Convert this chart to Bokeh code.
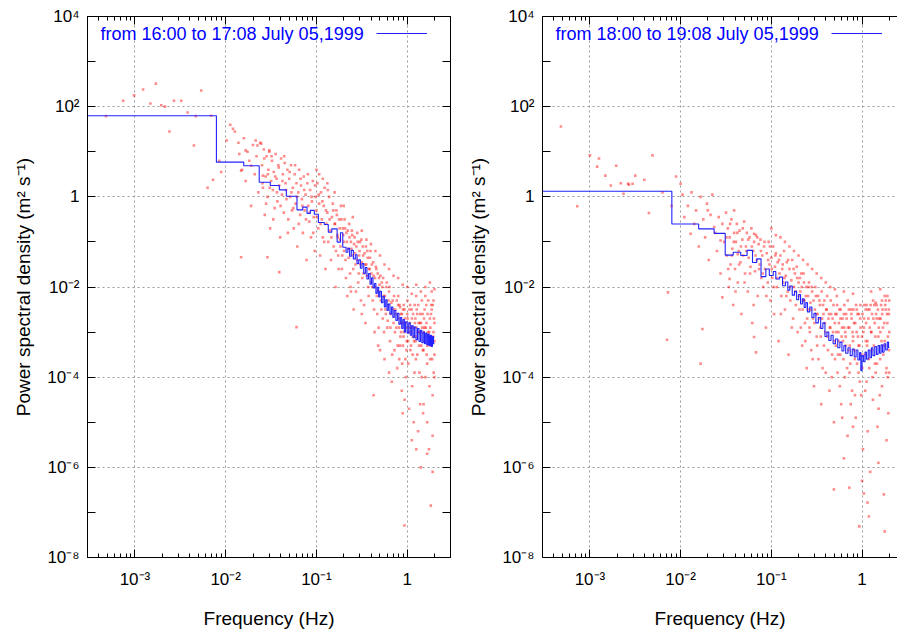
import numpy as np
from bokeh.plotting import figure
from bokeh.models import (ColumnDataSource, FixedTicker, LogAxis, Label, Legend,
                          LegendItem, CustomJSTickFormatter, Range1d)
from bokeh.layouts import row
from bokeh.embed import file_html
from bokeh.resources import INLINE
from bokeh.core.properties import value

FONT = "Liberation Sans"

# ---------------- axis ticks / labels ----------------
x_major_ticks = [1e-3, 1e-2, 1e-1, 1.0]
x_major_labels = ["10⁻³", "10⁻²", "10⁻¹", "1"]
x_minor_ticks = [4e-4, 5e-4, 6e-4, 7e-4, 8e-4, 9e-4,
                 2e-3, 3e-3, 4e-3, 5e-3, 6e-3, 7e-3, 8e-3, 9e-3,
                 2e-2, 3e-2, 4e-2, 5e-2, 6e-2, 7e-2, 8e-2, 9e-2,
                 0.2, 0.3, 0.4, 0.5, 0.6, 0.7, 0.8, 0.9, 2.0]
y_major_ticks = [1e-8, 1e-6, 1e-4, 1e-2, 1.0, 1e2, 1e4]
y_major_labels = ["10⁻⁸", "10⁻⁶", "10⁻⁴", "10⁻²", "1", "10²", "10⁴"]
y_minor_ticks = [1e-7, 1e-5, 1e-3, 1e-1, 1e1, 1e3]

x_label = "Frequency (Hz)"
y_label = "Power spectral density (m² s⁻¹)"
legend_texts = ["from 16:00 to 17:08 July 05,1999", "from 18:00 to 19:08 July 05,1999"]

# ---------------- blue step spectra (bin start frequency, PSD) ----------------
left_step_freq = [3.0e-4, 7.9e-3, 1.58e-2, 2.34e-2, 3.1e-2, 3.9e-2, 4.66e-2, 6.1e-2, 7.06e-2, 7.87e-2,
                  8.57e-2, 9.48e-2, 0.105, 0.122, 0.135, 0.1475, 0.169, 0.184, 0.195, 0.212,
                  0.222, 0.232, 0.242, 0.255, 0.268, 0.28, 0.292, 0.305, 0.318, 0.332,
                  0.346, 0.36, 0.375, 0.39, 0.405, 0.42, 0.436, 0.452, 0.468, 0.485,
                  0.50, 0.52, 0.54, 0.56, 0.58, 0.60, 0.62, 0.645, 0.67, 0.695,
                  0.72, 0.75, 0.78, 0.81, 0.84, 0.87, 0.90, 0.93, 0.96, 1.00,
                  1.04, 1.08, 1.12, 1.16, 1.20, 1.25, 1.30, 1.35, 1.40, 1.45,
                  1.50, 1.55, 1.60, 1.65, 1.70, 1.75, 1.80, 1.85, 1.90, 1.95, 2.00]
left_step_psd = [63, 5.9, 4.9, 2.1, 1.78, 1.43, 1.03, 0.515, 0.59, 0.43,
                 0.50, 0.41, 0.27, 0.243, 0.164, 0.195, 0.099, 0.16, 0.076, 0.059,
                 0.072, 0.048, 0.065, 0.042, 0.052, 0.033, 0.040, 0.026, 0.033, 0.020,
                 0.027, 0.015, 0.020, 0.0115, 0.016, 0.0095, 0.012, 0.0072, 0.0098, 0.0060,
                 0.0080, 0.0045, 0.0062, 0.0036, 0.0052, 0.0030, 0.0042, 0.0025, 0.0036, 0.0021,
                 0.0030, 0.0018, 0.0026, 0.0015, 0.0021, 0.0012, 0.0019, 0.0010, 0.0017, 0.00095,
                 0.0016, 0.00085, 0.0014, 0.00075, 0.0013, 0.00068, 0.0012, 0.00062, 0.0011, 0.00058,
                 0.0010, 0.00055, 0.00095, 0.00052, 0.0009, 0.0005, 0.00085, 0.00048, 0.0008, 0.00055, 0.00055]

right_step_freq = [3.0e-4, 8.0e-3, 1.58e-2, 2.34e-2, 3.1e-2, 3.8e-2, 4.6e-2, 5.4e-2, 6.2e-2, 6.9e-2,
                   7.7e-2, 8.7e-2, 9.5e-2, 0.105, 0.112, 0.123, 0.133, 0.143, 0.152, 0.16,
                   0.17, 0.18, 0.19, 0.20, 0.21, 0.22, 0.23, 0.24, 0.25, 0.265,
                   0.28, 0.295, 0.31, 0.33, 0.35, 0.37, 0.39, 0.41, 0.43, 0.455,
                   0.48, 0.51, 0.54, 0.57, 0.60, 0.63, 0.66, 0.70, 0.74, 0.78,
                   0.82, 0.86, 0.90, 0.94, 0.97, 1.00, 1.04, 1.08, 1.12, 1.17,
                   1.22, 1.27, 1.32, 1.38, 1.44, 1.50, 1.56, 1.62, 1.68, 1.75,
                   1.82, 1.90, 1.96, 2.00]
right_step_psd = [1.33, 0.25, 0.195, 0.155, 0.051, 0.059, 0.050, 0.065, 0.035, 0.042,
                  0.017, 0.025, 0.018, 0.022, 0.015, 0.0166, 0.0107, 0.0129, 0.0085, 0.0105,
                  0.0066, 0.0080, 0.0052, 0.0068, 0.0042, 0.0055, 0.0035, 0.0045, 0.0028, 0.0036,
                  0.0021, 0.0026, 0.0016, 0.0021, 0.0012, 0.0016, 0.0008, 0.0010, 0.00065, 0.00085,
                  0.00055, 0.0007, 0.00045, 0.0006, 0.00038, 0.0005, 0.00034, 0.00045, 0.00030, 0.00042,
                  0.00028, 0.00040, 0.00024, 0.00035, 0.00014, 0.00030, 0.00022, 0.00036, 0.00025, 0.00040,
                  0.00027, 0.00045, 0.00030, 0.00048, 0.00032, 0.00050, 0.00034, 0.00052, 0.00036, 0.00055,
                  0.00040, 0.00060, 0.00045, 0.00045]

# ---------------- red raw periodogram points, read as (log10 f, log10 PSD) ----------------
left_cloud = [
    (-3.32, 1.79), (-3.13, 2.13), (-3.01, 2.25), (-2.91, 2.38), (-2.77, 2.51), (-2.83, 2.07),
    (-2.71, 2.03), (-2.67, 2.0), (-2.57, 2.13), (-2.49, 2.13), (-2.27, 2.36), (-2.42, 1.87),
    (-2.16, 1.8), (-2.62, 1.45), (-2.33, 1.79), (-2.35, 1.14), (-2.20, 0.20), (-2.14, 0.38),
    (-2.05, 0.55), (-1.95, 1.60), (-1.92, 1.51), (-1.83, -1.34), (-1.65, 1.14), (-1.61, 1.18),
    (-1.54, -1.34), (-1.41, -1.67), (-1.22, -2.89), (-1.99, 1.25), (-2.07, 0.8), (-1.83, 0.58),
    (-1.78, 1.03), (-1.72, 0.69), (-1.67, 1.25), (-1.59, 0.47), (-1.52, 1.03),
    (-1.90, 1.45), (-1.86, 1.2), (-1.85, 0.95), (-1.82, 0.6), (-1.80, 1.3), (-1.78, 0.35),
    (-1.76, 1.0), (-1.74, 0.8), (-1.72, -0.2), (-1.70, 1.15), (-1.68, 0.5), (-1.66, 0.9),
    (-1.64, 0.1), (-1.62, 1.2),
    (-1.60, 0.7), (-1.59, 0.2), (-1.58, 1.05), (-1.57, -0.4), (-1.56, 0.45), (-1.55, 0.9),
    (-1.54, 0.0), (-1.53, 0.6), (-1.52, 1.0), (-1.51, -0.7), (-1.50, 0.35), (-1.49, 0.8),
    (-1.48, 0.15), (-1.47, 0.55), (-1.46, -0.25), (-1.45, 0.95), (-1.44, 0.4), (-1.43, -0.1),
    (-1.42, 0.7), (-1.41, 0.25), (-1.40, -0.9), (-1.39, 0.85), (-1.38, 0.05), (-1.37, 0.5),
    (-1.36, -0.35), (-1.35, 0.75), (-1.34, 0.3), (-1.33, -0.05), (-1.32, 0.6), (-1.31, -0.5),
    (-1.30, 0.4), (-1.29, 0.0), (-1.28, 0.7), (-1.27, -0.3), (-1.26, 0.2), (-1.25, -0.7),
    (-1.24, 0.5), (-1.23, -0.15), (-1.22, 0.3), (-1.21, -1.1), (-1.20, 0.1), (-1.19, 0.6),
    (-1.18, -0.4), (-1.17, 0.25), (-1.16, -0.05), (-1.15, -0.8), (-1.14, 0.45), (-1.13, -0.3),
    (-1.12, 0.05), (-1.11, -1.4), (-1.10, 0.3), (-1.09, -0.2), (-1.08, -0.55), (-1.07, 0.15),
    (-1.06, -0.9), (-1.05, -0.1), (-1.04, 0.35), (-1.03, -0.45), (-1.02, -1.2), (-1.01, 0.0),
    (-1.00, -0.3), (-0.99, 0.3), (-0.98, -0.7), (-0.97, -0.15), (-0.96, -1.3), (-0.95, 0.1),
    (-0.94, -0.5), (-0.93, -0.9), (-0.92, -0.2), (-0.91, 0.2), (-0.90, -1.6), (-0.89, -0.6),
    (-0.88, -0.35), (-0.87, -1.0), (-0.86, 0.0), (-0.85, -0.75), (-0.84, -1.4), (-0.83, -0.45),
    (-0.82, -0.15), (-0.81, -1.1), (-0.80, -0.6), (-0.79, -2.0), (-0.78, -0.3), (-0.77, -0.85),
    (-0.76, -1.3), (-0.75, -0.5), (-0.74, -0.95), (-0.73, -0.2), (-0.72, -1.6), (-0.71, -0.7),
    (-0.70, -1.0), (-0.69, -0.5), (-0.68, -1.4), (-0.67, -0.8), (-0.66, -2.2), (-0.65, -1.15),
    (-0.64, -0.6), (-0.63, -1.7), (-0.62, -1.0), (-0.61, -0.75), (-0.60, -1.3), (-0.59, -2.5),
    (-0.58, -0.9), (-0.57, -1.5), (-0.56, -1.1), (-0.55, -0.8), (-0.54, -1.9), (-0.53, -1.3),
    (-0.52, -1.0), (-0.51, -2.3), (-0.50, -1.45), (-0.49, -1.1), (-0.48, -1.7), (-0.47, -1.25),
    (-0.46, -2.8), (-0.45, -1.5), (-0.44, -1.2), (-0.43, -2.0), (-0.42, -1.6), (-0.41, -1.35),
    (-0.40, -1.9), (-0.39, -1.5), (-0.38, -2.3), (-0.37, -1.75), (-0.36, -3.0), (-0.35, -2.0),
    (-0.34, -1.6), (-0.33, -2.6), (-0.32, -2.1), (-0.31, -1.8), (-0.30, -3.4), (-0.29, -2.3),
    (-0.28, -1.9), (-0.27, -2.7), (-0.26, -2.2), (-0.25, -3.6), (-0.24, -2.5), (-0.23, -2.0),
    (-0.22, -2.9), (-0.21, -2.4), (-0.20, -2.1), (-0.19, -3.2), (-0.18, -2.6), (-0.17, -4.1),
    (-0.16, -2.3), (-0.15, -2.8), (-0.14, -3.4), (-0.13, -2.5), (-0.12, -2.9), (-0.11, -3.8),
    (-0.10, -2.4), (-0.09, -2.9), (-0.08, -3.3), (-0.07, -2.6), (-0.06, -4.3), (-0.05, -2.8),
    (-0.04, -3.1), (-0.03, -2.5), (-0.02, -3.6), (-0.01, -2.9), (0.00, -2.6), (0.01, -3.2),
    (0.02, -4.7), (0.03, -2.8), (0.04, -3.0), (0.05, -2.5), (0.06, -3.5), (0.07, -2.9),
    (0.08, -3.9), (0.09, -2.7), (0.10, -3.1), (0.11, -2.6), (0.12, -5.2), (0.13, -3.3),
    (0.14, -2.8), (0.15, -3.0), (0.16, -4.0), (0.17, -2.6), (0.18, -3.4), (0.19, -2.9),
    (0.20, -3.1), (0.21, -2.4), (0.22, -3.7), (0.23, -3.0), (0.24, -5.6), (0.25, -2.7),
    (0.26, -3.3), (0.27, -2.5), (0.28, -4.4), (0.29, -3.0), (0.30, -2.8), (0.30, -3.5),
    (0.15, -6.0), (0.26, -6.85), (0.22, -5.0), (0.05, -5.4), (-0.05, -4.8), (0.28, -5.3),
    (0.18, -4.6), (0.29, -2.3), (0.27, -2.1), (0.20, -2.2), (0.10, -2.2), (-0.20, -3.9),
    (-0.32, -3.3), (-0.50, -2.6), (-0.62, -2.1), (0.30, -4.0), (0.30, -3.2), (-0.03, -7.29),
    (0.22, -5.7), (0.28, -6.1), (0.10, -5.6), (-0.37, -4.4),
    (-1.595, 0.3), (-1.575, 0.85), (-1.555, -0.15), (-1.535, 0.5), (-1.515, 0.2), (-1.495, 0.9),
    (-1.475, -0.5), (-1.455, 0.45), (-1.435, 0.1), (-1.415, 0.65), (-1.395, -0.2), (-1.375, 0.35),
    (-1.355, 0.9), (-1.335, 0.15), (-1.315, -0.8), (-1.295, 0.55), (-1.275, 0.1), (-1.255, -0.25),
    (-1.235, 0.7), (-1.215, 0.0), (-1.195, -0.6), (-1.175, 0.4), (-1.155, -0.2), (-1.135, 0.15),
    (-1.115, -0.5), (-1.095, 0.5), (-1.075, -0.35), (-1.055, 0.0), (-1.035, -0.8), (-1.015, 0.25),
    (-0.995, -0.45), (-0.975, 0.05), (-0.955, -0.6), (-0.935, -0.1), (-0.915, -1.0), (-0.895, -0.3),
    (-0.875, 0.15), (-0.855, -0.5), (-0.835, -0.9), (-0.815, -0.3),
    (-1.00, 0.6), (-0.97, 0.5), (-0.93, 0.4), (-0.88, 0.3), (-0.80, 0.1), (-0.70, -0.2),
    (-0.60, -0.45), (-0.50, -0.75), (-0.45, -0.95), (-0.40, -1.05), (-0.35, -1.2), (-0.30, -1.3),
    (-0.25, -1.5), (-0.20, -1.6), (-0.15, -1.75), (-0.10, -1.8), (-0.05, -1.95), (0.00, -2.0),
    (0.05, -2.15), (0.10, -1.95), (0.15, -2.1), (0.20, -2.0), (0.25, -1.9), (0.30, -2.05),
    (-0.795, -0.6), (-0.785, -1.2), (-0.775, -0.4), (-0.765, -0.9), (-0.755, -1.6), (-0.745, -0.7),
    (-0.735, -1.1), (-0.725, -0.5), (-0.715, -1.3), (-0.705, -0.85), (-0.695, -1.2), (-0.685, -0.7),
    (-0.675, -1.8), (-0.665, -1.0), (-0.655, -0.75), (-0.645, -1.35), (-0.635, -0.9), (-0.625, -2.0),
    (-0.615, -1.15), (-0.605, -0.85), (-0.595, -1.6), (-0.585, -1.05), (-0.575, -1.25), (-0.565, -2.1),
    (-0.555, -1.4), (-0.545, -1.0), (-0.535, -1.7), (-0.525, -1.2), (-0.515, -1.5), (-0.505, -0.95),
    (-0.495, -1.8), (-0.485, -1.3), (-0.475, -2.4), (-0.465, -1.5), (-0.455, -1.1), (-0.445, -1.75),
    (-0.435, -1.35), (-0.425, -2.2), (-0.415, -1.6), (-0.405, -1.2), (-0.395, -1.7), (-0.385, -2.0),
    (-0.375, -1.45), (-0.365, -2.5), (-0.355, -1.8), (-0.345, -1.55), (-0.335, -2.2), (-0.325, -1.7),
    (-0.315, -2.9), (-0.305, -1.95), (-0.295, -1.75), (-0.285, -2.5), (-0.275, -2.0), (-0.265, -1.8),
    (-0.255, -3.0), (-0.245, -2.2), (-0.235, -2.6), (-0.225, -1.9), (-0.215, -2.75), (-0.205, -2.3),
    (-0.195, -2.0), (-0.185, -2.9), (-0.175, -2.35), (-0.165, -3.5), (-0.155, -2.5), (-0.145, -2.2),
    (-0.135, -3.0), (-0.125, -2.6), (-0.115, -2.3), (-0.105, -3.3), (-0.095, -2.7), (-0.085, -2.4),
    (-0.075, -3.1), (-0.065, -2.8), (-0.055, -3.7), (-0.045, -2.5), (-0.035, -3.0), (-0.025, -2.7),
    (-0.015, -4.0), (-0.005, -3.2), (0.005, -2.7), (0.015, -3.0), (0.025, -2.5), (0.035, -3.4),
    (0.045, -2.9), (0.055, -4.2), (0.065, -2.6), (0.075, -3.2), (0.085, -2.8), (0.095, -3.6),
    (0.105, -2.5), (0.115, -3.0), (0.125, -2.8), (0.135, -3.9), (0.145, -2.6), (0.155, -3.3),
    (0.165, -2.9), (0.175, -4.8), (0.185, -2.7), (0.195, -3.2), (0.205, -2.9), (0.215, -3.5),
    (0.225, -2.6), (0.235, -3.1), (0.245, -4.2), (0.255, -2.9), (0.265, -2.4), (0.275, -3.6),
    (0.285, -3.1), (0.295, -2.7),
    (-0.098, -2.2), (-0.088, -3.6), (-0.078, -2.45), (-0.068, -3.0), (-0.058, -2.6), (-0.048, -3.3),
    (-0.038, -2.4), (-0.028, -4.5), (-0.018, -2.8), (-0.008, -3.4), (0.002, -2.3), (0.012, -3.7),
    (0.022, -2.9), (0.032, -2.4), (0.042, -3.3), (0.052, -2.7), (0.062, -3.1), (0.072, -5.0),
    (0.082, -2.4), (0.092, -3.2), (0.102, -2.9), (0.112, -3.5), (0.122, -2.4), (0.132, -3.0),
    (0.142, -4.6), (0.152, -2.8), (0.162, -2.3), (0.172, -3.4), (0.182, -3.0), (0.192, -2.5),
    (0.202, -4.0), (0.212, -2.8), (0.222, -3.3), (0.232, -2.3), (0.242, -3.0), (0.252, -3.6),
    (0.262, -2.6), (0.272, -3.2), (0.282, -2.4), (0.292, -3.9),
]

right_cloud = [
    (-3.32, 1.56), (-3.00, 0.92), (-2.92, 0.67), (-2.83, 0.47), (-2.71, 0.69), (-2.66, 0.30),
    (-2.57, 0.27), (-2.53, 0.29), (-2.50, 0.47), (-2.40, 0.38), (-3.14, -0.21), (-2.35, -0.36),
    (-2.63, 0.07), (-2.31, 0.92), (-2.77, 0.25), (-2.58, 0.29), (-2.14, -2.12), (-2.15, -3.17),
    (-2.00, 0.29), (-1.96, -0.45), (-1.89, -0.82), (-1.78, -3.70), (-1.76, -2.93), (-1.70, -0.30),
    (-1.63, -0.67), (-1.56, -0.97), (-1.46, -1.82), (-1.54, -2.23), (-1.37, -1.27), (-1.17, -3.45),
    (-1.19, -3.11), (-1.41, -0.30), (-1.19, -0.82), (-2.20, 0.10), (-2.05, 0.45), (-2.10, -0.20),
    (-1.98, 0.05), (-2.90, 0.85),
    (-1.92, -0.2), (-1.88, 0.1), (-1.85, -0.6), (-1.83, -0.3), (-1.80, -1.1), (-1.78, 0.0),
    (-1.75, -0.5), (-1.73, -0.9), (-1.71, -0.15), (-1.69, -1.4), (-1.67, -0.4), (-1.65, 0.05),
    (-1.62, -0.8), (-1.60, -1.2), (-1.58, -0.45), (-1.56, -1.7), (-1.54, -0.6), (-1.52, -1.0),
    (-1.50, -0.35),
    (-1.49, -1.3), (-1.48, -0.7), (-1.47, -2.0), (-1.46, -0.9), (-1.45, -1.5), (-1.44, -0.5),
    (-1.43, -1.15), (-1.42, -2.4), (-1.41, -0.8), (-1.40, -1.6), (-1.39, -1.0), (-1.38, -0.6),
    (-1.37, -1.9), (-1.36, -1.2), (-1.35, -0.75), (-1.34, -1.45), (-1.33, -2.6), (-1.32, -0.95),
    (-1.31, -1.3), (-1.30, -0.55), (-1.29, -1.7), (-1.28, -1.1), (-1.27, -0.8), (-1.26, -2.1),
    (-1.25, -1.35), (-1.24, -0.9), (-1.23, -1.55), (-1.22, -0.7), (-1.21, -2.8), (-1.20, -1.2),
    (-1.19, -1.0), (-1.18, -1.65), (-1.17, -0.85), (-1.16, -1.4), (-1.15, -2.2), (-1.14, -1.05),
    (-1.13, -1.5), (-1.12, -0.95), (-1.11, -1.8),
    (-1.10, -1.3), (-1.09, -2.0), (-1.08, -1.1), (-1.07, -1.6), (-1.06, -2.9), (-1.05, -1.25),
    (-1.04, -1.9), (-1.03, -1.0), (-1.02, -1.5), (-1.01, -2.3), (-1.00, -1.35), (-0.99, -1.8),
    (-0.98, -1.1), (-0.97, -2.6), (-0.96, -1.55), (-0.95, -1.25), (-0.94, -2.0), (-0.93, -1.45),
    (-0.92, -3.2), (-0.91, -1.7), (-0.90, -1.3), (-0.89, -2.2), (-0.88, -1.6), (-0.87, -1.9),
    (-0.86, -1.2), (-0.85, -2.5), (-0.84, -1.75), (-0.83, -1.45), (-0.82, -2.1), (-0.81, -3.5),
    (-0.80, -1.6), (-0.79, -2.3), (-0.78, -1.85), (-0.77, -1.4), (-0.76, -2.7), (-0.75, -2.0),
    (-0.74, -1.7), (-0.73, -2.4), (-0.72, -1.55), (-0.71, -3.0),
    (-0.70, -1.9), (-0.69, -2.5), (-0.68, -2.1), (-0.67, -1.7), (-0.66, -3.3), (-0.65, -2.3),
    (-0.64, -1.9), (-0.63, -2.8), (-0.62, -2.2), (-0.61, -3.8), (-0.60, -2.5), (-0.59, -2.0),
    (-0.58, -2.9), (-0.57, -2.35), (-0.56, -3.4), (-0.55, -2.1), (-0.54, -2.7), (-0.53, -4.2),
    (-0.52, -2.5), (-0.51, -2.2), (-0.50, -3.1), (-0.49, -2.6), (-0.48, -3.6), (-0.47, -2.3),
    (-0.46, -2.9), (-0.45, -4.6), (-0.44, -2.7), (-0.43, -2.4), (-0.42, -3.3), (-0.41, -2.8),
    (-0.40, -3.9), (-0.39, -2.5), (-0.38, -3.1), (-0.37, -2.7), (-0.36, -4.3), (-0.35, -2.9),
    (-0.34, -2.6), (-0.33, -3.5), (-0.32, -3.0), (-0.31, -5.0),
    (-0.30, -2.8), (-0.29, -3.3), (-0.28, -2.6), (-0.27, -3.9), (-0.26, -3.0), (-0.25, -2.5),
    (-0.24, -3.5), (-0.23, -4.6), (-0.22, -2.9), (-0.21, -3.2), (-0.20, -2.6), (-0.19, -4.0),
    (-0.18, -3.1), (-0.17, -2.7), (-0.16, -5.3), (-0.15, -3.4), (-0.14, -2.9), (-0.13, -3.7),
    (-0.12, -2.5), (-0.11, -4.3), (-0.10, -3.2), (-0.09, -2.8), (-0.08, -3.6), (-0.07, -4.9),
    (-0.06, -3.0), (-0.05, -2.6), (-0.04, -3.9), (-0.03, -3.3), (-0.02, -2.7), (-0.01, -4.4),
    (0.00, -3.1), (0.01, -5.6), (0.02, -2.9), (0.03, -3.5), (0.04, -2.5), (0.05, -4.1),
    (0.06, -3.2), (0.07, -2.7), (0.08, -3.8), (0.09, -6.1), (0.10, -3.0), (0.11, -2.6),
    (0.12, -4.5), (0.13, -3.3), (0.14, -2.8), (0.15, -3.9), (0.16, -2.4), (0.17, -5.1),
    (0.18, -3.1), (0.19, -2.7), (0.20, -3.6), (0.21, -2.4), (0.22, -4.2), (0.23, -2.9),
    (0.24, -6.6), (0.25, -3.2), (0.26, -2.5), (0.27, -3.8), (0.28, -2.8), (0.29, -4.8),
    (0.30, -3.0), (0.30, -2.3), (0.28, -2.2), (0.22, -2.3), (0.15, -2.35), (0.05, -2.4),
    (-0.20, -5.8), (0.00, -6.3), (0.18, -5.9), (-0.10, -5.1), (0.27, -5.4),
    (-0.31, -6.49), (-0.14, -6.45), (0.02, -6.58), (0.06, -6.78), (0.075, -7.09), (-0.03, -7.31),
    (0.25, -7.42),
    (-1.00, -0.7), (-0.95, -0.85), (-0.90, -0.9), (-0.85, -1.0), (-0.80, -1.1), (-0.75, -1.2),
    (-0.70, -1.3), (-0.65, -1.4), (-0.60, -1.5), (-0.55, -1.6), (-0.50, -1.7), (-0.45, -1.8),
    (-0.40, -1.9), (-0.35, -2.0), (-0.30, -2.05), (-0.20, -2.1), (-0.10, -2.15), (0.10, -2.1),
    (0.20, -2.05), (0.25, -2.2),
    (-1.495, -0.9), (-1.475, -1.6), (-1.455, -0.6), (-1.435, -1.3), (-1.415, -1.0), (-1.395, -2.1),
    (-1.375, -0.8), (-1.355, -1.5), (-1.335, -1.1), (-1.315, -0.7), (-1.295, -1.9), (-1.275, -1.2),
    (-1.255, -0.95), (-1.235, -1.7), (-1.215, -1.1), (-1.195, -2.4), (-1.175, -1.3), (-1.155, -0.9),
    (-1.135, -1.6), (-1.115, -1.2), (-1.095, -1.7), (-1.075, -1.0), (-1.055, -2.2), (-1.035, -1.4),
    (-1.015, -1.1), (-0.995, -1.6), (-0.975, -2.0), (-0.955, -1.3), (-0.935, -1.8), (-0.915, -1.4),
    (-0.895, -2.6), (-0.875, -1.5), (-0.855, -1.8), (-0.835, -2.2), (-0.815, -1.4), (-0.795, -2.0),
    (-0.775, -2.9), (-0.755, -1.6), (-0.735, -2.1), (-0.715, -1.8),
    (-0.695, -2.2), (-0.685, -1.8), (-0.675, -2.9), (-0.665, -2.0), (-0.655, -2.5), (-0.645, -1.7),
    (-0.635, -2.3), (-0.625, -3.2), (-0.615, -2.0), (-0.605, -2.7), (-0.595, -2.2), (-0.585, -1.9),
    (-0.575, -3.0), (-0.565, -2.5), (-0.555, -2.0), (-0.545, -3.6), (-0.535, -2.3), (-0.525, -2.8),
    (-0.515, -2.0), (-0.505, -2.6), (-0.495, -3.3), (-0.485, -2.2), (-0.475, -2.7), (-0.465, -2.4),
    (-0.455, -3.1), (-0.445, -2.1), (-0.435, -3.8), (-0.425, -2.6), (-0.415, -2.3), (-0.405, -3.0),
    (-0.395, -2.5), (-0.385, -2.2), (-0.375, -3.4), (-0.365, -2.6), (-0.355, -2.9), (-0.345, -2.3),
    (-0.335, -4.0), (-0.325, -2.7), (-0.315, -2.4), (-0.305, -3.2), (-0.295, -2.6), (-0.285, -3.0),
    (-0.275, -2.4), (-0.265, -3.5), (-0.255, -2.8), (-0.245, -4.2), (-0.235, -2.5), (-0.225, -3.1),
    (-0.215, -2.7), (-0.205, -3.6), (-0.195, -2.4), (-0.185, -3.0), (-0.175, -2.6), (-0.165, -3.8),
    (-0.155, -2.9), (-0.145, -2.5), (-0.135, -3.3), (-0.125, -4.6), (-0.115, -2.7), (-0.105, -3.0),
    (-0.095, -2.5), (-0.085, -3.4), (-0.075, -2.8), (-0.065, -2.4), (-0.055, -3.7), (-0.045, -3.1),
    (-0.035, -2.6), (-0.025, -4.1), (-0.015, -2.9), (-0.005, -3.5), (0.005, -2.6), (0.015, -3.0),
    (0.025, -2.4), (0.035, -4.3), (0.045, -2.8), (0.055, -3.3), (0.065, -2.5), (0.075, -3.6),
    (0.085, -2.9), (0.095, -2.4), (0.105, -3.4), (0.115, -4.0), (0.125, -2.7), (0.135, -2.4),
    (0.145, -3.1), (0.155, -2.6), (0.165, -3.7), (0.175, -2.5), (0.185, -2.9), (0.195, -4.4),
    (0.205, -2.7), (0.215, -3.2), (0.225, -2.5), (0.235, -3.5), (0.245, -2.8), (0.255, -2.4),
    (0.265, -3.9), (0.275, -2.6), (0.285, -3.1), (0.295, -2.5),
    (-0.298, -3.6), (-0.278, -2.2), (-0.258, -3.2), (-0.238, -2.7), (-0.218, -4.9), (-0.198, -2.9),
    (-0.178, -3.3), (-0.158, -2.3), (-0.138, -3.9), (-0.118, -2.6), (-0.098, -3.1), (-0.078, -4.4),
    (-0.058, -2.5), (-0.038, -3.3), (-0.018, -2.4), (0.002, -3.8), (0.022, -2.7), (0.042, -3.2),
    (0.062, -5.2), (0.082, -2.5), (0.102, -3.0), (0.122, -2.3), (0.142, -3.7), (0.162, -2.7),
    (0.182, -4.7), (0.202, -3.0), (0.222, -2.6), (0.242, -3.3), (0.262, -2.3), (0.282, -4.0),
    (0.298, -3.4), (0.296, -2.6), (0.299, -3.9),
]


def tick_formatter(tvals, tlabels):
    return CustomJSTickFormatter(args=dict(tvals=tvals, tlabels=tlabels), code="""
        const lt = Math.log10(tick);
        for (let i = 0; i < tvals.length; i++) {
            if (Math.abs(Math.log10(tvals[i]) - lt) < 1e-6) { return tlabels[i]; }
        }
        return "";
    """)


xt_ticker = FixedTicker(ticks=x_major_ticks, minor_ticks=x_minor_ticks)
yt_ticker = FixedTicker(ticks=y_major_ticks, minor_ticks=y_minor_ticks)
blank_fmt = CustomJSTickFormatter(code="return '';")


def style_axis(ax, ticker, formatter, labelled):
    ax.ticker = ticker
    ax.formatter = formatter
    ax.major_tick_in = 8
    ax.major_tick_out = 0
    ax.minor_tick_in = 4 if ticker is xt_ticker else 8
    ax.minor_tick_out = 0
    ax.major_tick_line_color = "black"
    ax.minor_tick_line_color = "black"
    ax.axis_line_color = "black"
    ax.axis_line_width = 1
    if labelled:
        ax.major_label_text_font = FONT
        ax.major_label_text_font_size = "17px"
        ax.major_label_text_color = "black"
        ax.axis_label_text_font = FONT
        ax.axis_label_text_font_size = "19px"
        ax.axis_label_text_font_style = "normal"
        ax.axis_label_text_color = "black"
    else:
        ax.major_label_text_font_size = "0px"
        ax.major_label_standoff = 0
        ax.axis_label = None


def make_panel(step_f, step_p, cloud, legend_text, x_end, frame_w, mb_left, mb_right, mirror_right):
    p = figure(x_axis_type="log", y_axis_type="log",
               x_range=Range1d(3e-4, x_end), y_range=Range1d(1e-8, 1e4),
               frame_width=frame_w, frame_height=541,
               min_border_left=mb_left, min_border_right=mb_right,
               min_border_top=16, min_border_bottom=73,
               toolbar_location=None, output_backend="svg",
               background_fill_color="white", border_fill_color="white")
    p.outline_line_color = "black" if mirror_right else None
    p.outline_line_width = 1

    xa = p.xaxis[0]
    ya = p.yaxis[0]
    style_axis(xa, xt_ticker, tick_formatter(x_major_ticks, x_major_labels), True)
    style_axis(ya, yt_ticker, tick_formatter(y_major_ticks, y_major_labels), True)
    xa.axis_label = x_label
    ya.axis_label = y_label
    xa.major_label_standoff = 12
    xa.axis_label_standoff = 16
    ya.major_label_standoff = 8
    ya.axis_label_standoff = 10

    top = LogAxis()
    style_axis(top, xt_ticker, blank_fmt, False)
    p.add_layout(top, "above")
    if mirror_right:
        right = LogAxis()
        style_axis(right, yt_ticker, blank_fmt, False)
        p.add_layout(right, "right")

    for g in (p.xgrid[0], p.ygrid[0]):
        g.grid_line_color = "#9a9a9a"
        g.grid_line_dash = "2 3"
        g.grid_line_width = 1
    p.xgrid[0].ticker = xt_ticker
    p.ygrid[0].ticker = yt_ticker

    cloud_src = ColumnDataSource(dict(f=[10 ** a for a, b in cloud], p=[10 ** b for a, b in cloud]))
    p.scatter(x="f", y="p", source=cloud_src, marker="square", size=2.6,
              fill_color="#ff0000", line_color=None, fill_alpha=0.45)

    step_src = ColumnDataSource(dict(f=step_f, p=step_p))
    r = p.step(x="f", y="p", source=step_src, mode="after", line_color="#2222ff", line_width=1.1)

    p.add_layout(Label(x=13, y=524, x_units="screen", y_units="screen", text=legend_text,
                       text_font=FONT, text_font_size="18px", text_color="#0000ff",
                       text_baseline="middle", text_align="left"))
    leg = Legend(items=[LegendItem(label=value(" "), renderers=[r])],
                 location=(289, 516), glyph_width=51, glyph_height=16, label_height=16,
                 label_width=0, label_standoff=0, padding=0, margin=0, spacing=0,
                 border_line_color=None, background_fill_alpha=0,
                 label_text_font_size="10px")
    p.add_layout(leg)
    return p


p1 = make_panel(left_step_freq, left_step_psd, left_cloud, legend_texts[0],
                3.0, 363, 87, 10, True)
p2 = make_panel(right_step_freq, right_step_psd, right_cloud, legend_texts[1],
                2.46, 355, 82, 0, False)

layout = row(p1, p2)
open("out.html", "w").write(file_html(layout, INLINE, title="Power spectral density"))
